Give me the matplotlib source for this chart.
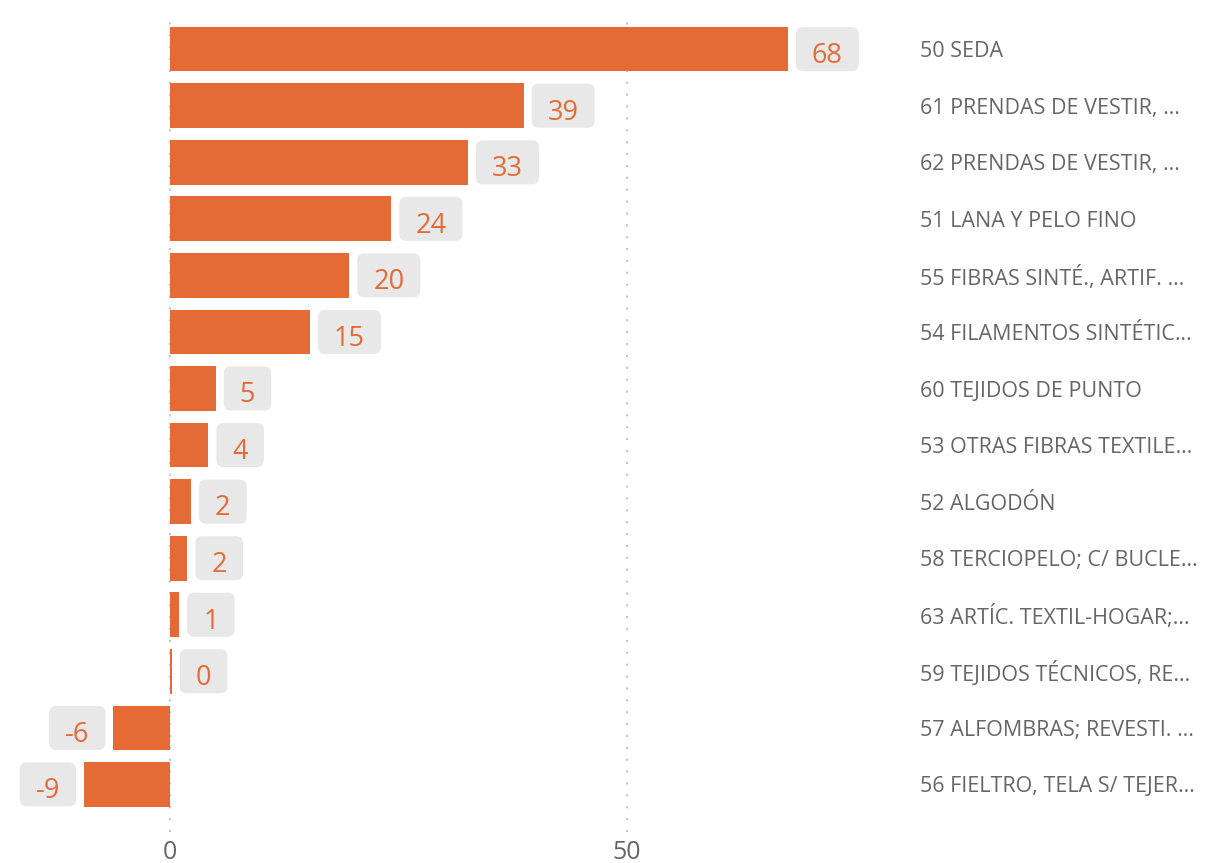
import matplotlib.pyplot as plt
from matplotlib.patches import FancyBboxPatch
from matplotlib.transforms import ScaledTranslation

plt.rcParams['font.family'] = ['Open Sans', 'DejaVu Sans']

categorias = [
    "50 SEDA",
    "61 PRENDAS DE VESTIR, …",
    "62 PRENDAS DE VESTIR, …",
    "51 LANA Y PELO FINO",
    "55 FIBRAS SINTÉ., ARTIF. …",
    "54 FILAMENTOS SINTÉTIC…",
    "60 TEJIDOS DE PUNTO",
    "53 OTRAS FIBRAS TEXTILE…",
    "52 ALGODÓN",
    "58 TERCIOPELO; C/ BUCLE…",
    "63 ARTÍC. TEXTIL-HOGAR;…",
    "59 TEJIDOS TÉCNICOS, RE…",
    "57 ALFOMBRAS; REVESTI. …",
    "56 FIELTRO, TELA S/ TEJER…",
]
valores = [67.6, 38.7, 32.6, 24.2, 19.6, 15.3, 5.0, 4.2, 2.3, 1.9, 1.0, 0.2, -6.2, -9.4]
etiquetas = [68, 39, 33, 24, 20, 15, 5, 4, 2, 2, 1, 0, -6, -9]

naranja = '#E56B36'
gris_texto = '#666666'

fig = plt.figure(figsize=(12.16, 8.63), dpi=100)
ax = fig.add_axes([0.0, 0.036, 0.745, 0.949])

pos = list(range(len(valores)))
ax.barh(pos, valores, height=0.79, color=naranja, zorder=2)

ax.set_xlim(-18.6, 80.5)
ax.set_ylim(13.84, -0.64)

# etiquetas de valor en cajas grises redondeadas (medidas en pixeles, dpi=100)
renderer = fig.canvas.get_renderer()
for p, v, e in zip(pos, valores, etiquetas):
    s = 1 if v >= 0 else -1
    t = ax.text(v, p, str(e), fontsize=19.5, color=naranja, ha='center', va='baseline', zorder=4)
    tw = t.get_window_extent(renderer).width
    bw = max(tw + 32, 46)
    cx = s * (8 + bw / 2)
    t.set_transform(ax.transData + ScaledTranslation(cx / 100, -13.8 / 100, fig.dpi_scale_trans))
    x0 = 8 if s > 0 else -(8 + bw)
    caja = FancyBboxPatch((x0 / 100, -0.22), bw / 100, 0.44,
                          boxstyle='round,pad=0,rounding_size=0.07',
                          fc='#E8E8E8', ec='none', zorder=3, clip_on=False,
                          transform=fig.dpi_scale_trans + ScaledTranslation(v, p, ax.transData))
    ax.add_patch(caja)

ax.set_xticks([0, 50])
ax.set_xticklabels(['0', '50'])
ax.grid(axis='x', color='#C4C4C4', linestyle=(0, (1, 4.7)), linewidth=1.5, zorder=0)

ax.yaxis.tick_right()
ax.set_yticks(pos)
ax.set_yticklabels(categorias)
ax.tick_params(axis='y', length=0, pad=10, labelsize=15.5, labelcolor=gris_texto)
ax.tick_params(axis='x', length=0, pad=6, labelsize=18, labelcolor=gris_texto)

for sp in ax.spines.values():
    sp.set_visible(False)

fig.savefig('out.png', dpi=100)
